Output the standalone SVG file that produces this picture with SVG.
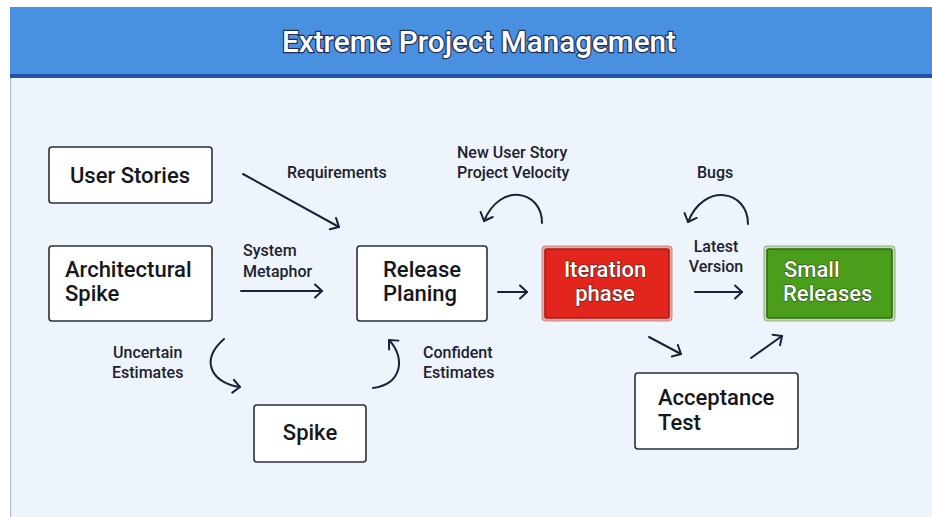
<svg xmlns="http://www.w3.org/2000/svg" width="932" height="517" viewBox="0 0 932 517">
<style>
.node rect.box{fill:#fff;stroke:#2b2f38;stroke-width:1.6}
.nt{font-family:Roboto,"Liberation Sans",sans-serif;font-weight:500;font-size:22px;fill:#15171c}
.wt{font-family:Roboto,"Liberation Sans",sans-serif;font-weight:500;font-size:22px;fill:#fff;paint-order:stroke;stroke:#5a1a14;stroke-width:1.2}
.lb{font-family:Roboto,"Liberation Sans",sans-serif;font-weight:500;font-size:16px;fill:#1c2130}
.cn path,.cn line{fill:none;stroke:#1a2238;stroke-width:2;stroke-linecap:round}
</style>
<defs>
<marker id="ah" viewBox="-1 -8 10 16" refX="7" refY="0" markerWidth="10" markerHeight="16" markerUnits="userSpaceOnUse" orient="auto">
<path d="M0,-6.5 L7,0 L0,6.5" fill="none" stroke="#1a2238" stroke-width="2" stroke-linecap="round" stroke-linejoin="round"/>
</marker>
</defs>
<rect x="0" y="0" width="932" height="517" fill="#ffffff"/>
<rect x="10" y="7" width="922" height="510" fill="#eef4fb"/>
<rect x="10" y="7" width="1.2" height="510" fill="#b8bfc8"/>
<rect x="10" y="7" width="922" height="68" fill="#4a90e0"/>
<rect x="10" y="74" width="922" height="4" fill="#1f55a8"/>
<text x="479" y="52" text-anchor="middle" textLength="394" lengthAdjust="spacingAndGlyphs" font-family="Roboto,'Liberation Sans',sans-serif" font-weight="500" font-size="30" fill="#fff" stroke="#1d2f5a" stroke-width="2.4" paint-order="stroke">Extreme Project Management</text>

<g class="cn" id="connectors">
<line x1="243" y1="174" x2="339" y2="227" marker-end="url(#ah)"/>
<line x1="241" y1="291" x2="322" y2="291" marker-end="url(#ah)"/>
<line x1="498" y1="292" x2="527" y2="292" marker-end="url(#ah)"/>
<path d="M542,223 C542,190 500,182 484,221" marker-end="url(#ah)"/>
<path d="M748,224 C748,190 704,182 688,222" marker-end="url(#ah)"/>
<line x1="695" y1="292" x2="742" y2="292" marker-end="url(#ah)"/>
<line x1="649" y1="337" x2="681" y2="354" marker-end="url(#ah)"/>
<line x1="751" y1="358" x2="782" y2="336" marker-end="url(#ah)"/>
<path d="M224,339 C198,362 214,384 240,387" marker-end="url(#ah)"/>
<path d="M373,388 C402,384 406,358 389,340" marker-end="url(#ah)"/>
</g>

<g id="labels">
<text class="lb" x="287" y="178">Requirements</text>
<text class="lb" x="243" y="256">System</text>
<text class="lb" x="243" y="277">Metaphor</text>
<text class="lb" x="457" y="158">New User Story</text>
<text class="lb" x="457" y="178">Project Velocity</text>
<text class="lb" x="697" y="178">Bugs</text>
<text class="lb" x="716" y="252" text-anchor="middle">Latest</text>
<text class="lb" x="716" y="272" text-anchor="middle">Version</text>
<text class="lb" x="113" y="358">Uncertain</text>
<text class="lb" x="112" y="378">Estimates</text>
<text class="lb" x="423" y="358">Confident</text>
<text class="lb" x="423" y="378">Estimates</text>
</g>

<g class="node" id="user-stories">
<rect class="box" x="49" y="147" width="163" height="56" rx="3"/>
<text class="nt" x="130" y="183" text-anchor="middle">User Stories</text>
</g>
<g class="node" id="architectural-spike">
<rect class="box" x="49" y="246" width="163" height="75" rx="3"/>
<text class="nt" x="65" y="277">Architectural</text>
<text class="nt" x="65" y="301">Spike</text>
</g>
<g class="node" id="release-planing">
<rect class="box" x="357" y="246" width="130" height="75" rx="3"/>
<text class="nt" x="383" y="277">Release</text>
<text class="nt" x="383" y="301">Planing</text>
</g>
<g class="node" id="iteration-phase">
<rect x="542" y="246" width="130" height="75" rx="3" fill="#e8a8a2" stroke="#c98b85" stroke-width="1"/>
<rect x="545" y="249" width="124" height="69" rx="2" fill="#e2261d" stroke="#a81d16" stroke-width="1.6"/>
<text class="wt" x="605" y="277" text-anchor="middle">Iteration</text>
<text class="wt" x="605" y="301" text-anchor="middle">phase</text>
</g>
<g class="node" id="small-releases">
<rect x="764" y="246" width="131" height="75" rx="3" fill="#c3dcb4" stroke="#8fae7d" stroke-width="1"/>
<rect x="767" y="249" width="125" height="69" rx="2" fill="#4b9e1b" stroke="#2f6c10" stroke-width="1.6"/>
<text class="wt" x="784" y="277" style="stroke:#1e4a0a">Small</text>
<text class="wt" x="783" y="301" style="stroke:#1e4a0a">Releases</text>
</g>
<g class="node" id="acceptance-test">
<rect class="box" x="635" y="373" width="163" height="76" rx="3"/>
<text class="nt" x="658" y="405">Acceptance</text>
<text class="nt" x="658" y="430">Test</text>
</g>
<g class="node" id="spike">
<rect class="box" x="254" y="405" width="112" height="57" rx="3"/>
<text class="nt" x="310" y="440" text-anchor="middle">Spike</text>
</g>
</svg>
